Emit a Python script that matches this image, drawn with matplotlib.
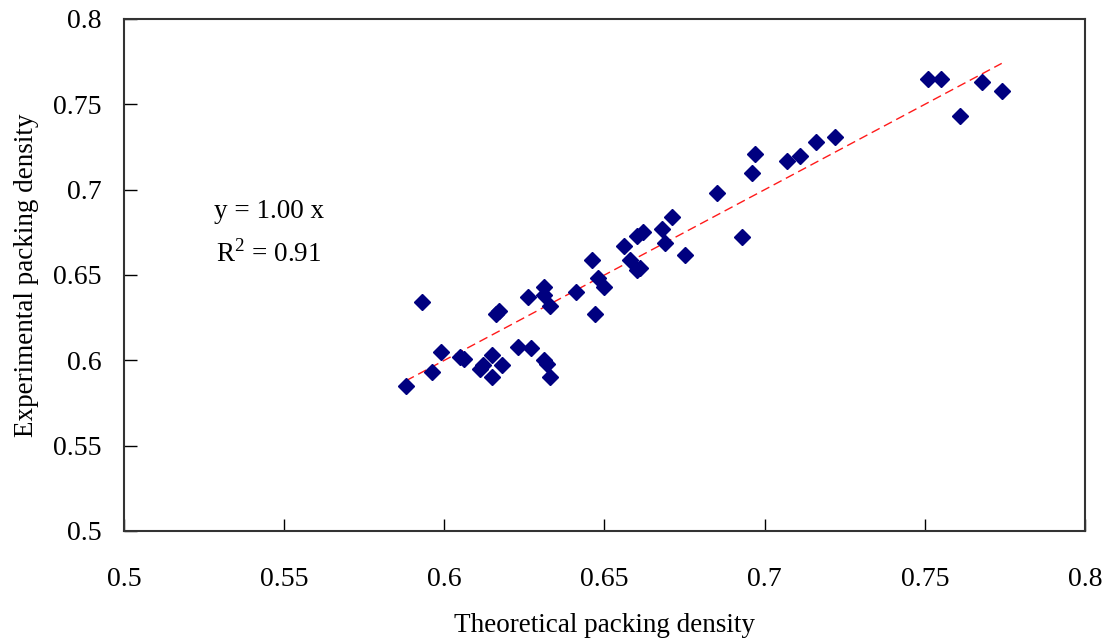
import matplotlib
matplotlib.use("Agg")
import matplotlib.pyplot as plt
import numpy as np

# Theoretical vs experimental packing density
theoretical = [0.588, 0.593, 0.596, 0.599, 0.605, 0.606, 0.611, 0.615, 0.615, 0.618,
               0.612, 0.616, 0.617, 0.623, 0.627, 0.626, 0.631, 0.631, 0.633, 0.631,
               0.632, 0.633, 0.641, 0.646, 0.647, 0.648, 0.650, 0.656, 0.660, 0.662,
               0.658, 0.660, 0.661, 0.668, 0.671, 0.669, 0.675, 0.685, 0.693, 0.697,
               0.696, 0.707, 0.711, 0.716, 0.722, 0.751, 0.755, 0.768, 0.774, 0.761]
experimental = [0.585, 0.634, 0.593, 0.605, 0.602, 0.601, 0.595, 0.603, 0.590, 0.597,
                0.597, 0.627, 0.629, 0.608, 0.607, 0.637, 0.643, 0.638, 0.632, 0.600,
                0.598, 0.590, 0.640, 0.659, 0.627, 0.648, 0.643, 0.667, 0.673, 0.675,
                0.659, 0.653, 0.654, 0.677, 0.684, 0.669, 0.662, 0.698, 0.672, 0.721,
                0.710, 0.717, 0.720, 0.728, 0.731, 0.765, 0.765, 0.763, 0.758, 0.743]

slope = 1.00
r_squared = 0.91
ticks = [0.5, 0.55, 0.6, 0.65, 0.7, 0.75, 0.8]
tick_labels = ["0.5", "0.55", "0.6", "0.65", "0.7", "0.75", "0.8"]

plt.rcParams["font.family"] = ["Liberation Serif", "DejaVu Serif"]
plt.rcParams["mathtext.fontset"] = "custom"
plt.rcParams["mathtext.rm"] = "Liberation Serif"

fig = plt.figure(figsize=(11.15, 6.44), dpi=100)
ax = fig.add_axes([0.1112, 0.1755, 0.8619, 0.795])

ax.plot(theoretical, experimental, linestyle="none", marker="D", markersize=8.2,
        color="#000080", markeredgecolor="#000080", zorder=3)

fit_x = np.array([min(theoretical), max(theoretical)])
ax.plot(fit_x, slope * fit_x, linestyle=(0, (6.5, 3.5)), color="#ff1a1a",
        linewidth=1.0, zorder=2)

ax.set_xlim(0.5, 0.8)
ax.set_ylim(0.5, 0.8)
ax.set_xticks(ticks)
ax.set_xticklabels(tick_labels)
ax.set_yticks(ticks)
ax.set_yticklabels(tick_labels)
ax.tick_params(direction="in", length=9, width=1.0, labelsize=20, colors="#000000")
ax.tick_params(axis="x", pad=26)
ax.tick_params(axis="y", pad=16)
for s in ax.spines.values():
    s.set_linewidth(1.5)
    s.set_color("#333333")

ax.set_xlabel("Theoretical packing density", fontsize=19.5, labelpad=15)
ax.set_ylabel("Experimental packing density", fontsize=19.5, labelpad=10)

ax.text(0.5453, 0.687, "y = %.2f x" % slope, fontsize=19.5, ha="center", va="center")
ax.text(0.5453, 0.6625, r"R$^{\mathrm{2}}$ = %.2f" % r_squared, fontsize=19.5,
        ha="center", va="center")

fig.savefig("out.png", dpi=100)
